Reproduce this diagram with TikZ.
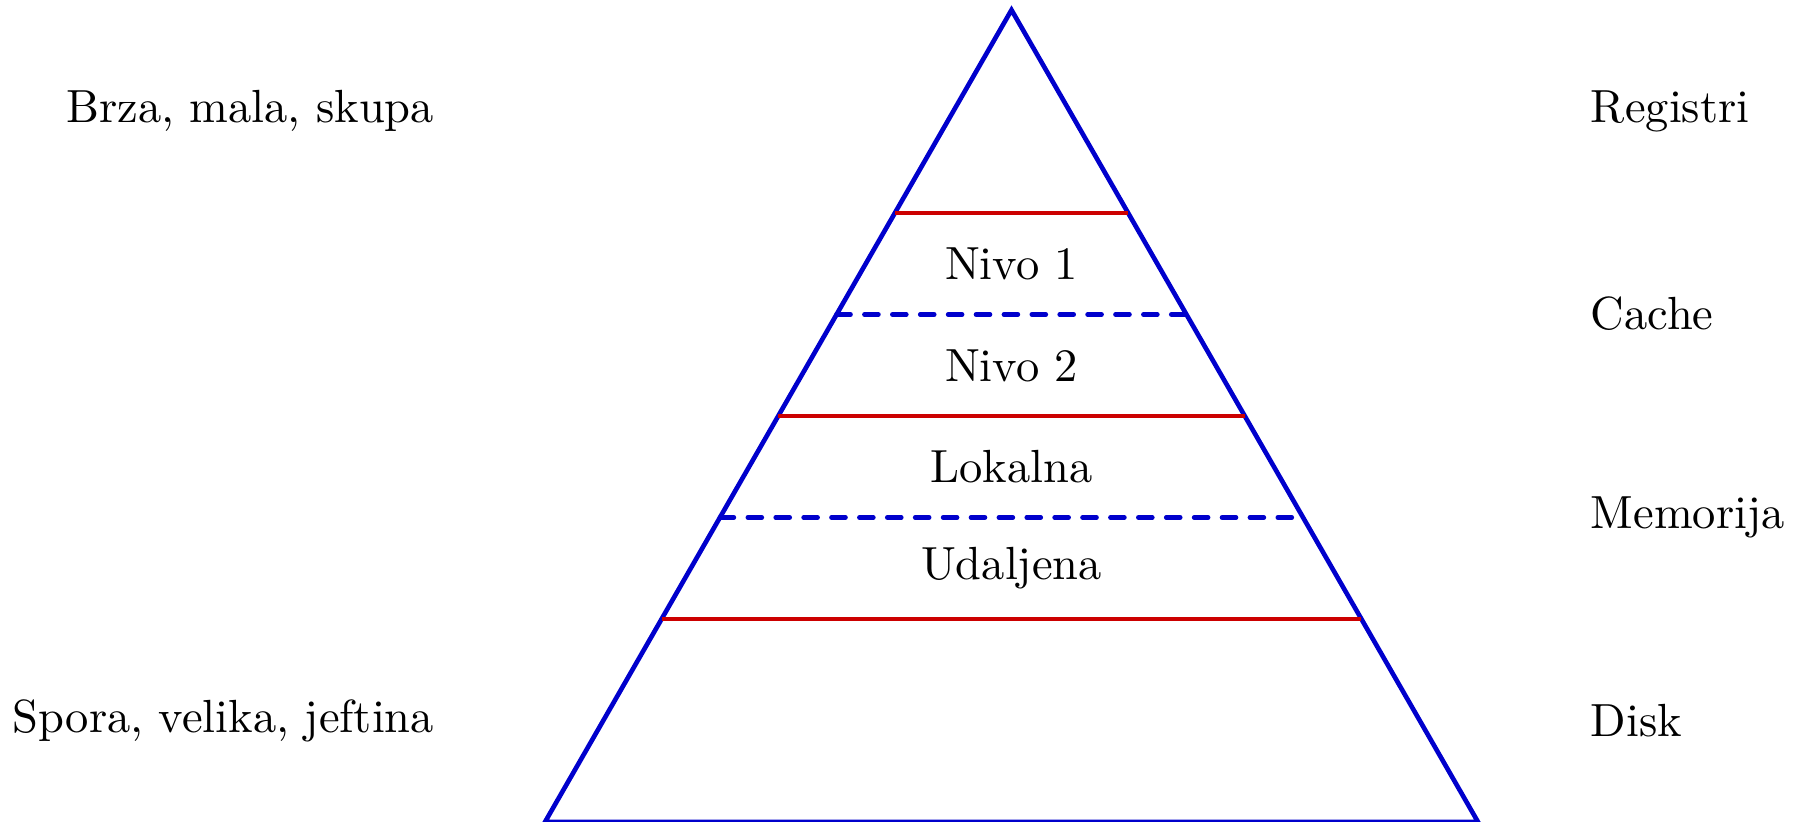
\documentclass[tikz,border=0pt]{standalone}
\usetikzlibrary{calc}
\begin{document}
\begin{tikzpicture}[x=0.2151pt,y=-0.2151pt,
  edge/.style={line width=1pt,draw=blue!80!black},
  level/.style={line width=1pt,draw=red!80!black},
  sublevel/.style={line width=1pt,line cap=round,dashed,draw=blue!80!black},
  lbl/.style={inner sep=0pt,font=\normalsize}]
\useasboundingbox (0,0) rectangle (1805,822);
\coordinate (A) at (1011.5,10);
\coordinate (L) at (545,822);
\coordinate (R) at (1478,822);
\draw[edge] (A) -- (L) -- (R) -- cycle;
\foreach \f/\n in {0.25/a,0.375/b,0.5/c,0.625/d,0.75/e}{
  \coordinate (l\n) at ($(A)!\f!(L)$);
  \coordinate (r\n) at ($(A)!\f!(R)$);
}
\draw[level] (la) -- (ra);
\draw[level] (lc) -- (rc);
\draw[level] (le) -- (re);
\draw[sublevel] (lb) -- (rb);
\draw[sublevel] (ld) -- (rd);
\node[lbl] (n1) at (1011.5,264) {Nivo 1};
\node[lbl] (n2) at (1011.5,366) {Nivo 2};
\node[lbl] (lok) at (1011.5,467) {Lokalna};
\node[lbl] (uda) at (1011.5,568) {Udaljena};
\node[lbl,anchor=east] (brza) at (435,111) {Brza, mala, skupa};
\node[lbl,anchor=east] (spora) at (435,721) {Spora, velika, jeftina};
\node[lbl,anchor=west] (reg) at (1590,111) {Registri};
\node[lbl,anchor=west] (cache) at (1590,314) {Cache};
\node[lbl,anchor=west] (mem) at (1590,517) {Memorija};
\node[lbl,anchor=west] (disk) at (1590,721) {Disk};
\end{tikzpicture}
\end{document}
